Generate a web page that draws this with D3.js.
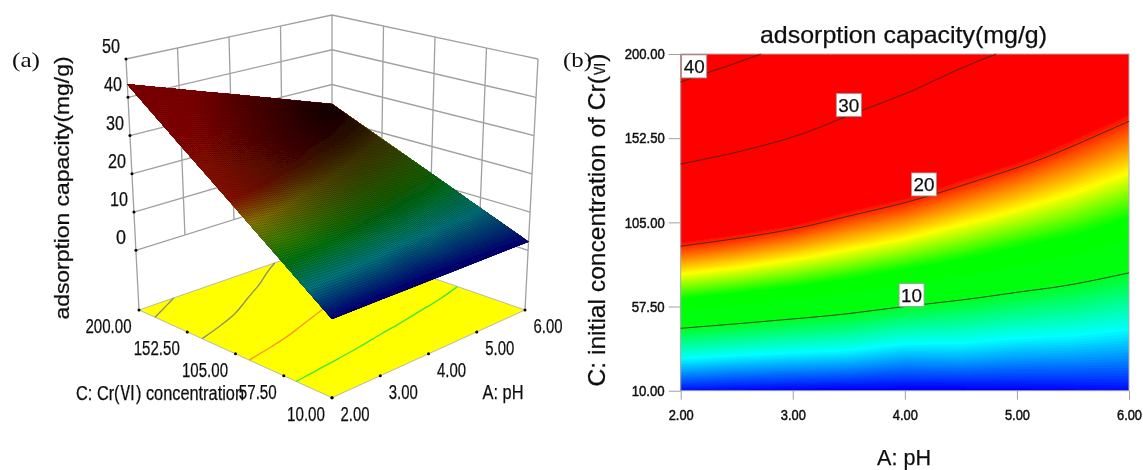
<!DOCTYPE html>
<html>
  <head>
    <meta charset="utf-8">
    <title>adsorption capacity</title>
    <script src="https://d3js.org/d3.v7.min.js"></script>
    <style>
      html, body { margin: 0; padding: 0; background: #fff; }
      svg { display: block; }
      text { font-family: "Liberation Sans", Arial, sans-serif; fill: #111; stroke: #111; stroke-width: 0.25px; }
      .serif { font-family: "Liberation Serif", serif; stroke: none; }
      .roman { font-family: "Noto Sans CJK SC", "DejaVu Sans", serif; }
    </style>
  </head>
  <body>
    <svg id="chart" width="1143" height="470"></svg>
    <script>
      // values
      const phTicks = [2, 3, 4, 5, 6];
      const concTicks = [10, 57.5, 105, 152.5, 200];
      const capacityTicks = [0, 10, 20, 30, 40, 50];
      const contourLevels = [10, 20, 30, 40];
      const phColumns = [2, 2.5, 3, 3.5, 4, 4.5, 5, 5.5, 6];
      const concRows = [10, 29, 48, 67, 86, 105, 124, 143, 162, 181, 200];
      // capacity at each pH, one entry per concRows
      const capacityPh2 = [2.3, 6.5, 10.6, 14.7, 18.8, 22.9, 27.0, 31.1, 35.2, 39.3, 43.4];
      const capacityPh25 = [2.1, 6.1, 10.05, 14.0, 18.0, 21.9, 25.8, 29.7, 33.4, 37.2, 41.0];
      const capacityPh3 = [2.0, 5.8, 9.5, 13.3, 17.0, 20.8, 24.5, 28.2, 31.8, 35.2, 38.7];
      const capacityPh35 = [1.9, 5.6, 9.05, 12.5, 15.95, 19.35, 22.7, 26.0, 29.4, 32.7, 36.1];
      const capacityPh4 = [1.9, 5.0, 8.3, 11.6, 14.9, 18.2, 21.4, 24.5, 27.5, 30.6, 33.6];
      const capacityPh45 = [1.9, 5.1, 8.0, 10.95, 13.9, 16.8, 19.75, 22.6, 25.5, 28.3, 31.2];
      const capacityPh5 = [2.0, 4.8, 7.5, 10.2, 12.9, 15.6, 18.3, 21.1, 23.8, 26.5, 29.3];
      const capacityPh55 = [2.1, 4.7, 7.2, 9.65, 12.1, 14.5, 16.9, 19.35, 21.8, 24.2, 26.8];
      const capacityPh6 = [2.25, 4.5, 6.7, 8.9, 11.1, 13.3, 15.5, 17.8, 20.0, 22.2, 24.4];
      const capacityColumns = [capacityPh2, capacityPh25, capacityPh3, capacityPh35, capacityPh4,
        capacityPh45, capacityPh5, capacityPh55, capacityPh6];

      const nx = phColumns.length, ny = concRows.length;
      const flatValues = [];
      concRows.forEach((c, j) => capacityColumns.forEach(col => flatValues.push(col[j])));

      const svg = d3.select("#chart");
      const defs = svg.append("defs");
      defs.append("filter").attr("id", "soft")
        .attr("filterUnits", "userSpaceOnUse")
        .attr("x", 0).attr("y", 0).attr("width", 1143).attr("height", 470)
        .append("feGaussianBlur").attr("stdDeviation", 0.4);
      const backShade = defs.append("radialGradient").attr("id", "backShade")
        .attr("gradientUnits", "userSpaceOnUse")
        .attr("cx", 332).attr("cy", 105).attr("r", 140);
      backShade.append("stop").attr("offset", 0).attr("stop-color", "#000").attr("stop-opacity", 0.85);
      backShade.append("stop").attr("offset", 0.55).attr("stop-color", "#000").attr("stop-opacity", 0.4);
      backShade.append("stop").attr("offset", 1).attr("stop-color", "#000").attr("stop-opacity", 0);

      const root = svg.append("g").attr("filter", "url(#soft)");

      // grid coordinates from d3.contours -> data
      const gridPh = d3.scaleLinear().domain([0.5, nx - 0.5]).range([2, 6]).clamp(true);
      const gridConc = d3.scaleLinear().domain([0.5, ny - 0.5]).range([10, 200]).clamp(true);
      const contours = d3.contours().size([nx, ny]).smooth(true);

      // only the real iso-line, without the outline along the grid border
      function isoRuns(level) {
        const runs = [];
        contours.contour(flatValues, level).coordinates.forEach(poly => poly.forEach(ring => {
          const inside = p => p[0] >= 0.5 && p[0] <= nx - 0.5 && p[1] >= 0.5 && p[1] <= ny - 0.5;
          const start = ring.findIndex(p => !inside(p));
          const turned = start < 0 ? ring : ring.slice(start).concat(ring.slice(0, start));
          let run = [];
          turned.forEach(p => {
            if (inside(p)) run.push(p);
            else { if (run.length > 1) runs.push(run); run = []; }
          });
          if (run.length > 1) runs.push(run);
        }));
        return runs;
      }

      const fineLevels = d3.range(0, 45.01, 0.2);

      // ---------- (a) response surface ----------
      const phFrac = d3.scaleLinear().domain([2, 6]).range([0, 1]);
      const concFrac = d3.scaleLinear().domain([200, 10]).range([0, 1]);
      const zFrac = d3.scaleLinear().domain([-15.6, 50]).range([0, 1]);
      // box corners on screen: left, back, front, right
      const boxFloor = { l: [139, 310], b: [332, 243], f: [332, 397.7], r: [525, 310] };
      const boxTop = { l: [126, 59], b: [332, 15], f: [332, 109], r: [538, 59] };

      function project(ph, conc, z) {
        const u = phFrac(ph), v = concFrac(conc), w = zFrac(z);
        return [0, 1].map(k => {
          const lo = (1 - u) * ((1 - v) * boxFloor.l[k] + v * boxFloor.f[k]) + u * ((1 - v) * boxFloor.b[k] + v * boxFloor.r[k]);
          const hi = (1 - u) * ((1 - v) * boxTop.l[k] + v * boxTop.f[k]) + u * ((1 - v) * boxTop.b[k] + v * boxTop.r[k]);
          return lo + (hi - lo) * w;
        });
      }

      // the surface keeps straight edges on screen, spanned by its four corners
      const cornerL = project(2, 200, capacityPh2[ny - 1]);
      const cornerB = project(6, 200, capacityPh6[ny - 1]);
      const cornerF = project(2, 10, capacityPh2[0]);
      const cornerR = project(6, 10, capacityPh6[0]);
      function surfacePoint(ph, conc) {
        const u = phFrac(ph), v = concFrac(conc);
        return [0, 1].map(k => (1 - u) * ((1 - v) * cornerL[k] + v * cornerF[k]) + u * ((1 - v) * cornerB[k] + v * cornerR[k]));
      }

      const line3d = d3.line();
      const pa = root.append("g");
      const walls = pa.append("g").attr("fill", "none").attr("stroke", "#a0a0a0").attr("stroke-width", 1.3);

      // back walls
      capacityTicks.forEach(z => {
        walls.append("path").attr("d", line3d([project(2, 200, z), project(6, 200, z), project(6, 10, z)]));
      });
      phTicks.slice(1).forEach(ph => {
        walls.append("path").attr("d", line3d([project(ph, 200, 0), project(ph, 200, 50)]));
      });
      concTicks.slice(1, -1).forEach(c => {
        walls.append("path").attr("d", line3d([project(6, c, 0), project(6, c, 50)]));
      });
      walls.append("path").attr("d", line3d([project(2, 200, -15.6), project(2, 200, 50)]));
      walls.append("path").attr("d", line3d([project(6, 10, -15.6), project(6, 10, 50)]));

      // yellow floor
      pa.append("path")
        .attr("d", line3d([project(2, 200, -15.6), project(2, 10, -15.6), project(6, 10, -15.6), project(6, 200, -15.6)]) + "Z")
        .attr("fill", "#ffff00").attr("stroke", "#a8a8a8").attr("stroke-width", 0.8);
      const floorColors = { 10: "#3fe83f", 20: "#f49a2a", 30: "#8f8f70", 40: "#8f8f70" };
      contourLevels.forEach(level => {
        isoRuns(level).forEach(run => {
          pa.append("path")
            .attr("d", d3.line().curve(d3.curveBasis)(run.map(p => project(gridPh(p[0]), gridConc(p[1]), -15.6))))
            .attr("fill", "none").attr("stroke", floorColors[level]).attr("stroke-width", 1.4);
        });
      });

      // surface coloured by capacity
      const surfaceColor = d3.scaleLinear()
        .domain([2.3, 7.5, 12, 15, 19, 23, 44])
        .range(["#00007f", "#008088", "#058010", "#3f8800", "#947f00", "#981000", "#920000"])
        .clamp(true);
      const surfacePath = d3.geoPath(d3.geoTransform({
        point: function(x, y) {
          const p = surfacePoint(gridPh(x), gridConc(y));
          this.stream.point(p[0], p[1]);
        }
      }));
      const surface = pa.append("g");
      surface.selectAll("path")
        .data(contours.thresholds(fineLevels)(flatValues))
        .join("path")
        .attr("d", surfacePath)
        .attr("fill", d => surfaceColor(d.value));

      // dense mesh of the surface
      const meshG = surface.append("g").attr("fill", "none").attr("stroke", "#000")
        .attr("stroke-width", 0.6).attr("stroke-opacity", 0.3);
      d3.range(0, 111).forEach(i => {
        const ph = 2 + 4 * i / 110, conc = 10 + 190 * i / 110;
        meshG.append("path").attr("d", line3d([surfacePoint(ph, 10), surfacePoint(ph, 200)]));
        meshG.append("path").attr("d", line3d([surfacePoint(2, conc), surfacePoint(6, conc)]));
      });
      surface.append("path")
        .attr("d", line3d([cornerL, cornerB, cornerR, cornerF]) + "Z")
        .attr("fill", "url(#backShade)");

      // tick dots
      const dots = [];
      capacityTicks.forEach(z => dots.push(project(2, 200, z)));
      concTicks.forEach(c => dots.push(project(2, c, -15.6)));
      phTicks.forEach(ph => dots.push(project(ph, 10, -15.6)));
      pa.selectAll("circle").data(dots).join("circle")
        .attr("cx", d => d[0]).attr("cy", d => d[1]).attr("r", 1.5).attr("fill", "#000");

      function label(g, str, x, y, size, len, opts) {
        opts = opts || {};
        const t = g.append("text")
          .attr("x", x).attr("y", y)
          .attr("font-size", size)
          .attr("text-anchor", opts.anchor || "middle");
        if (opts.cls) t.attr("class", opts.cls);
        if (opts.rotate) t.attr("transform", "rotate(-90 " + x + " " + y + ")");
        if (len) t.attr("textLength", len).attr("lengthAdjust", "spacingAndGlyphs");
        str.split(/(Ⅵ)/).forEach(part => {
          if (!part) return;
          const s = t.append("tspan").text(part);
          if (part === "Ⅵ") {
            s.attr("class", "roman");
            if (opts.romanSize) s.attr("font-size", opts.romanSize);
          }
        });
        return t;
      }

      capacityTicks.forEach(z => {
        const p = project(2, 200, z);
        label(pa, String(z), p[0] - 15, p[1] - 6, 20, z === 0 ? 10 : 18);
      });
      concTicks.forEach(c => {
        const p = project(2, c, -15.6);
        label(pa, d3.format(".2f")(c), p[0] + (c > 60 ? -30.5 : -26), p[1] + 23, 20, c > 60 ? 46 : 38);
      });
      phTicks.forEach(ph => {
        const p = project(ph, 10, -15.6);
        label(pa, d3.format(".2f")(ph), p[0] + 23, p[1] + 23, 20, 29);
      });
      label(pa, "adsorption capacity(mg/g)", 69, 188, 19.5, 263, { rotate: true });
      label(pa, "C: Cr(Ⅵ) concentration", 160, 400, 20, 168);
      label(pa, "A: pH", 503, 399, 20, 41);
      label(root, "(a)", 12, 67, 21, 28, { cls: "serif", anchor: "start" });
      label(root, "(b)", 563, 67, 21, 29, { cls: "serif", anchor: "start" });

      // ---------- (b) contour map ----------
      const x2d = d3.scaleLinear().domain([2, 6]).range([680.7, 1129]);
      const y2d = d3.scaleLinear().domain([10, 200]).range([390.7, 54]);
      const heatColor = d3.scaleLinear()
        .domain([2, 6.2, 10.2, 13.5, 16.5, 20.5])
        .range(["#0000ff", "#00ffff", "#00ff10", "#00ff00", "#ffff00", "#ff0000"])
        .clamp(true);
      const mapPath = d3.geoPath(d3.geoTransform({
        point: function(x, y) { this.stream.point(x2d(gridPh(x)), y2d(gridConc(y))); }
      }));
      const pb = root.append("g");
      pb.append("rect")
        .attr("x", x2d(2)).attr("y", y2d(200))
        .attr("width", x2d(6) - x2d(2)).attr("height", y2d(10) - y2d(200))
        .attr("fill", heatColor(0));
      pb.append("g").selectAll("path")
        .data(contours.thresholds(fineLevels)(flatValues))
        .join("path")
        .attr("d", mapPath)
        .attr("fill", d => heatColor(d.value));

      pb.append("rect")
        .attr("x", x2d(2)).attr("y", y2d(200))
        .attr("width", x2d(6) - x2d(2)).attr("height", y2d(10) - y2d(200))
        .attr("fill", "none").attr("stroke", "#b0b0b0").attr("stroke-width", 1);

      const isoLine = d3.line().curve(d3.curveBasis)
        .x(p => x2d(gridPh(p[0]))).y(p => y2d(gridConc(p[1])));
      contourLevels.forEach(level => {
        isoRuns(level).forEach(run => {
          pb.append("path").attr("d", isoLine(run))
            .attr("fill", "none").attr("stroke", "#3a2a10").attr("stroke-width", 0.9);
        });
      });

      // contour labels sit where the picture puts them
      const contourLabels = [
        { text: "40", ph: 2.12, conc: 193 },
        { text: "30", ph: 3.5, conc: 171.2 },
        { text: "20", ph: 4.17, conc: 126.4 },
        { text: "10", ph: 4.06, conc: 64 }
      ];
      contourLabels.forEach(d => {
        const cx = x2d(d.ph), cy = y2d(d.conc);
        pb.append("rect").attr("x", cx - 12.5).attr("y", cy - 11.5)
          .attr("width", 25).attr("height", 23)
          .attr("fill", "#fff").attr("stroke", "#999").attr("stroke-width", 0.8);
        label(pb, d.text, cx, cy + 7, 19, 21);
      });

      const xAxis = d3.axisBottom(x2d).tickValues(phTicks).tickSize(9).tickPadding(10).tickFormat(d3.format(".2f"));
      const yAxis = d3.axisLeft(y2d).tickValues(concTicks).tickSize(12).tickPadding(4).tickFormat(d3.format(".2f"));
      const gx = pb.append("g").attr("transform", "translate(0," + y2d(10) + ")").call(xAxis);
      const gy = pb.append("g").attr("transform", "translate(" + x2d(2) + ",0)").call(yAxis);
      [gx, gy].forEach(g => {
        g.select(".domain").remove();
        g.selectAll("line").attr("stroke", "#a0a0a0");
        g.selectAll("text").attr("font-size", 15).attr("font-weight", "normal").attr("fill", "#111")
          .style("stroke-width", "0.5px")
          .style("font-family", '"Liberation Sans", Arial, sans-serif');
      });
      gx.selectAll("text").attr("textLength", 25).attr("lengthAdjust", "spacingAndGlyphs");
      gy.selectAll("text").each(function(d) {
        d3.select(this).attr("textLength", d > 60 ? 40 : 33).attr("lengthAdjust", "spacingAndGlyphs");
      });

      label(pb, "adsorption capacity(mg/g)", 903.5, 43, 24, 287);
      label(pb, "C: initial concentration of Cr(Ⅵ)", 605, 220, 24, 333, { rotate: true, romanSize: 14 });
      label(pb, "A: pH", 904, 465, 21.5, 54);
    </script>
  </body>
</html>
